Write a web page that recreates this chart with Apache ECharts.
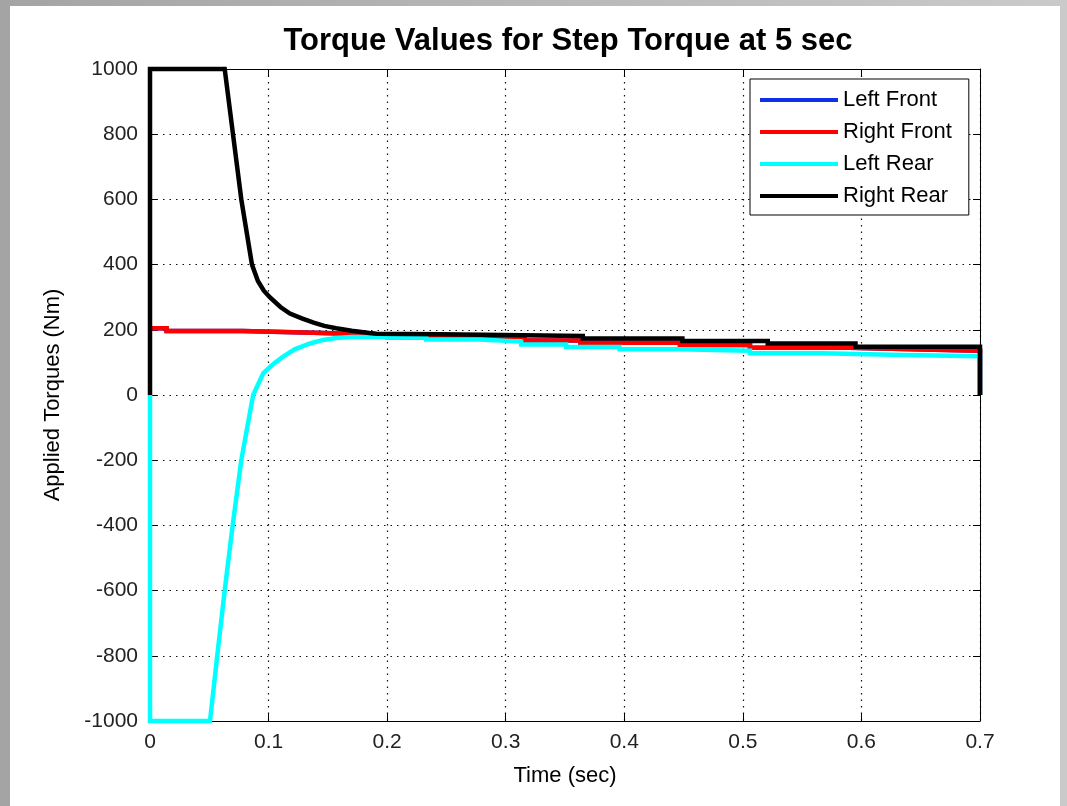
<!DOCTYPE html>
<html>
<head>
<meta charset="utf-8">
<script src="https://cdn.jsdelivr.net/npm/echarts@6/dist/echarts.min.js"></script>
<style>
  html, body { margin: 0; padding: 0; }
  body { width: 1067px; height: 806px; position: relative; overflow: hidden;
         background: linear-gradient(to right, #a4a4a4, #cacaca); }
  #paper { position: absolute; left: 10px; top: 6px; width: 1050px; height: 800px; background: #fff; }
  #chart { position: absolute; left: 0; top: 0; width: 1067px; height: 806px; }
</style>
</head>
<body>
<div id="paper"></div>
<div id="chart"></div>
<script>
// time (sec) and torque (Nm)
var leftFrontT  = [0, 0.014, 0.014, 0.078, 0.078, 0.138, 0.138, 0.2, 0.2, 0.316, 0.316, 0.363, 0.363, 0.447, 0.447, 0.506, 0.506, 0.59, 0.59, 0.662, 0.662, 0.7, 0.7];
var leftFrontV  = [205, 205, 196, 196, 191, 191, 185, 185, 178, 178, 167, 167, 160, 160, 153, 153, 145, 145, 139, 139, 136, 136, 0];

var rightFrontT = [0, 0.014, 0.014, 0.078, 0.078, 0.138, 0.138, 0.2, 0.2, 0.316, 0.316, 0.363, 0.363, 0.447, 0.447, 0.506, 0.506, 0.59, 0.59, 0.662, 0.662, 0.7, 0.7];
var rightFrontV = [205, 205, 196, 196, 191, 191, 185, 185, 178, 178, 167, 167, 160, 160, 153, 153, 145, 145, 139, 139, 136, 136, 0];

var leftRearT = [0, 0, 0.0506, 0.0567, 0.063, 0.0697, 0.077, 0.087, 0.0956, 0.104, 0.112, 0.122, 0.135, 0.146, 0.157, 0.17, 0.188,
                 0.233, 0.233, 0.278, 0.278, 0.313, 0.313, 0.351, 0.351, 0.396, 0.396, 0.447, 0.447, 0.506, 0.506, 0.566, 0.566, 0.637, 0.637, 0.7, 0.7];
var leftRearV = [0, -1000, -1000, -800, -600, -400, -200, 0, 67, 95, 117, 140, 158, 169, 175, 178, 178,
                 178, 170, 170, 164, 164, 155, 155, 147, 147, 140, 140, 136, 136, 128, 128, 123, 123, 119, 119, 0];

var rightRearT = [0, 0, 0.063, 0.070, 0.077, 0.086, 0.091, 0.096, 0.101, 0.110, 0.118, 0.128, 0.138, 0.147, 0.157, 0.170, 0.185, 0.191,
                  0.245, 0.245, 0.365, 0.365, 0.449, 0.449, 0.521, 0.521, 0.595, 0.595, 0.7, 0.7];
var rightRearV = [0, 1000, 1000, 800, 600, 400, 350, 320, 300, 270, 250, 235, 222, 212, 205, 197, 190, 188,
                  186, 181, 181, 173, 173, 166, 166, 158, 158, 148, 148, 0];

var seriesNames  = ['Left Front', 'Right Front', 'Left Rear', 'Right Rear'];
var seriesColors = ['#1030e8', '#ff0000', '#00ffff', '#000000'];
var yTicks = [-1000, -800, -600, -400, -200, 0, 200, 400, 600, 800, 1000];
var xTicks = [0, 0.1, 0.2, 0.3, 0.4, 0.5, 0.6, 0.7];

function pairs(t, v) {
  return t.map(function (x, i) { return [x, v[i]]; });
}
var allData = [pairs(leftFrontT, leftFrontV), pairs(rightFrontT, rightFrontV),
               pairs(leftRearT, leftRearV), pairs(rightRearT, rightRearV)];

var font = 'Liberation Sans, Arial, Helvetica, sans-serif';
var dotted = { color: '#111', width: 1.2, type: [1.5, 5] };

var xBase = {
  type: 'value', min: xTicks[0], max: xTicks[xTicks.length - 1], interval: 0.1,
  axisLine: { show: true, onZero: false, lineStyle: { color: '#000', width: 1 } },
  axisTick: { show: true, inside: true, length: 8, lineStyle: { color: '#000' } }
};
var yBase = {
  type: 'value', min: yTicks[0], max: yTicks[yTicks.length - 1], interval: 200,
  axisLine: { show: true, onZero: false, lineStyle: { color: '#000', width: 1 } },
  axisTick: { show: true, inside: true, length: 7, lineStyle: { color: '#000' } }
};

var chart = echarts.init(document.getElementById('chart'), null, { renderer: 'canvas' });
chart.setOption({
  animation: false,
  backgroundColor: 'transparent',
  textStyle: { fontFamily: font },
  graphic: [{
    type: 'text', x: 568, y: 41,
    style: { text: 'Torque Values for Step Torque at 5 sec', fill: '#000',
             font: 'bold 31px ' + font, textAlign: 'center', textVerticalAlign: 'middle' }
  }],
  grid: { left: 150, right: 87, top: 69, bottom: 85, containLabel: false },
  legend: {
    orient: 'vertical', left: 750, top: 79,
    data: seriesNames, icon: 'rect', itemWidth: 78, itemHeight: 4, itemGap: 10,
    padding: [10, 17, 8, 10],
    backgroundColor: '#fff', borderColor: '#000', borderWidth: 1,
    textStyle: { fontFamily: font, fontSize: 22, lineHeight: 22, color: '#000' },
    selectedMode: false
  },
  xAxis: [
    Object.assign({}, xBase, {
      position: 'bottom', name: 'Time (sec)', nameLocation: 'middle', nameGap: 44,
      nameTextStyle: { fontFamily: font, fontSize: 22, color: '#000' },
      axisLabel: { show: true, fontFamily: font, fontSize: 21, color: '#222', margin: 11,
                   formatter: function (v) { return String(Math.round(v * 10) / 10); } },
      splitLine: { show: true, lineStyle: dotted }
    }),
    Object.assign({}, xBase, { position: 'top', axisLabel: { show: false }, splitLine: { show: false } })
  ],
  yAxis: [
    Object.assign({}, yBase, {
      position: 'left', name: 'Applied Torques (Nm)', nameLocation: 'middle', nameGap: 86,
      nameTextStyle: { fontFamily: font, fontSize: 22, color: '#000' },
      axisLabel: { show: true, fontFamily: font, fontSize: 21, color: '#222', margin: 12,
                   formatter: function (v) { return String(v); } },
      splitLine: { show: true, lineStyle: dotted }
    }),
    Object.assign({}, yBase, { position: 'right', axisLabel: { show: false }, splitLine: { show: false } })
  ],
  series: seriesNames.map(function (name, i) {
    return {
      name: name, type: 'line', data: allData[i],
      xAxisIndex: 0, yAxisIndex: 0,
      showSymbol: false, symbol: 'none', clip: false,
      color: seriesColors[i],
      lineStyle: { color: seriesColors[i], width: 4.5, join: 'miter' },
      emphasis: { disabled: true }
    };
  })
});
</script>
</body>
</html>
